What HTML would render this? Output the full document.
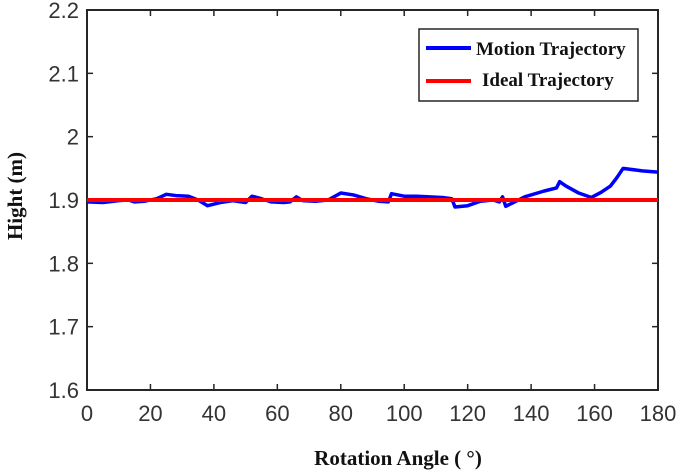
<!DOCTYPE html>
<html><head><meta charset="utf-8"><style>
body{margin:0;background:#fff;}
svg text{font-family:"Liberation Sans",sans-serif;}
</style></head><body>
<svg width="685" height="470" xmlns="http://www.w3.org/2000/svg">
<g id="plot"></g>
</svg>
<script>
const xTicks=[0,20,40,60,80,100,120,140,160,180];
const yTicks=[1.6,1.7,1.8,1.9,2.0,2.1,2.2];
const yTickLabels=["1.6","1.7","1.8","1.9","2","2.1","2.2"];
const motionX=[0,5,10,13,15,18,22,25,28,32,35,38,42,46,50,52,55,58,62,64,66,68,72,76,80,84,88,92,95,96,100,104,108,112,115,116,120,124,128,130,131,132,134,138,144,148,149,151,155,159,162,165,167,169,175,180];
const motionY=[1.897,1.896,1.899,1.900,1.897,1.898,1.902,1.909,1.907,1.906,1.900,1.891,1.896,1.899,1.896,1.906,1.902,1.897,1.896,1.897,1.905,1.899,1.898,1.900,1.911,1.908,1.902,1.898,1.897,1.910,1.906,1.906,1.905,1.904,1.902,1.889,1.891,1.898,1.900,1.897,1.905,1.890,1.895,1.905,1.914,1.919,1.929,1.922,1.911,1.904,1.912,1.922,1.935,1.950,1.946,1.944];
const idealX=[0,180];
const idealY=[1.9,1.9];
const L=87,R=658,T=10,B=390;
const sx=v=>L+(v-0)/(180)*(R-L);
const sy=v=>B-(v-1.6)/(0.6)*(B-T);
const NS="http://www.w3.org/2000/svg";
const g=document.getElementById('plot');
function mk(t,a){const e=document.createElementNS(NS,t);for(const k in a)e.setAttribute(k,a[k]);g.appendChild(e);return e;}
let fr=mk('rect',{x:L,y:T,width:R-L,height:B-T,fill:'none',stroke:'#262626','stroke-width':2});


xTicks.forEach(v=>{
 let t=mk('line',{x1:sx(v),x2:sx(v),y1:B,y2:B-6,stroke:'#262626','stroke-width':1.5});
 
 
 let t2=mk('line',{x1:sx(v),x2:sx(v),y1:T,y2:T+6,stroke:'#262626','stroke-width':1.5});
 
 
 let l=mk('text',{x:sx(v),y:B+31,'text-anchor':'middle','font-size':22,fill:'#333'});
 l.textContent=v;
 
 
});
yTicks.forEach((v,i)=>{
 let t=mk('line',{x1:L,x2:L+6,y1:sy(v),y2:sy(v),stroke:'#262626','stroke-width':1.5});
 
 
 let t2=mk('line',{x1:R,x2:R-6,y1:sy(v),y2:sy(v),stroke:'#262626','stroke-width':1.5});
 
 
 let l=mk('text',{x:L-8,y:sy(v)+8,'text-anchor':'end','font-size':22,fill:'#333'});
 l.textContent=yTickLabels[i];
 
 
});
let ideal=mk('polyline',{points:idealX.map((x,i)=>sx(x)+','+sy(idealY[i])).join(' '),fill:'none',stroke:'#ff0000','stroke-width':4});


let motion=mk('polyline',{points:motionX.map((x,i)=>sx(x)+','+sy(motionY[i])).join(' '),fill:'none',stroke:'#0000ff','stroke-width':3.5,'stroke-linejoin':'round'});


g.insertBefore(motion,ideal);
let lg=mk('rect',{x:419,y:29,width:219,height:72,fill:'#fff',stroke:'#262626','stroke-width':1.5});


let l1=mk('line',{x1:426,x2:471,y1:48,y2:48,stroke:'#0000ff','stroke-width':4});


let t1=mk('text',{x:476,y:55,'font-size':19,'font-weight':'bold',fill:'#111',style:'font-family:"Liberation Serif",serif'});
t1.textContent='Motion Trajectory';


let l2=mk('line',{x1:426,x2:471,y1:81,y2:81,stroke:'#ff0000','stroke-width':4});


let t2=mk('text',{x:482,y:86,'font-size':19,'font-weight':'bold',fill:'#111',style:'font-family:"Liberation Serif",serif'});
t2.textContent='Ideal Trajectory';


let yl=mk('text',{x:0,y:0,'text-anchor':'middle','font-size':21,'font-weight':'bold',fill:'#111',style:'font-family:"Liberation Serif",serif',transform:'translate(22,196) rotate(-90)'});
yl.textContent='Hight (m)';


let xl=mk('text',{x:398,y:465,'text-anchor':'middle','font-size':21,'font-weight':'bold',fill:'#111',style:'font-family:"Liberation Serif",serif'});
xl.textContent='Rotation Angle (  °)';


</script>
</body></html>
